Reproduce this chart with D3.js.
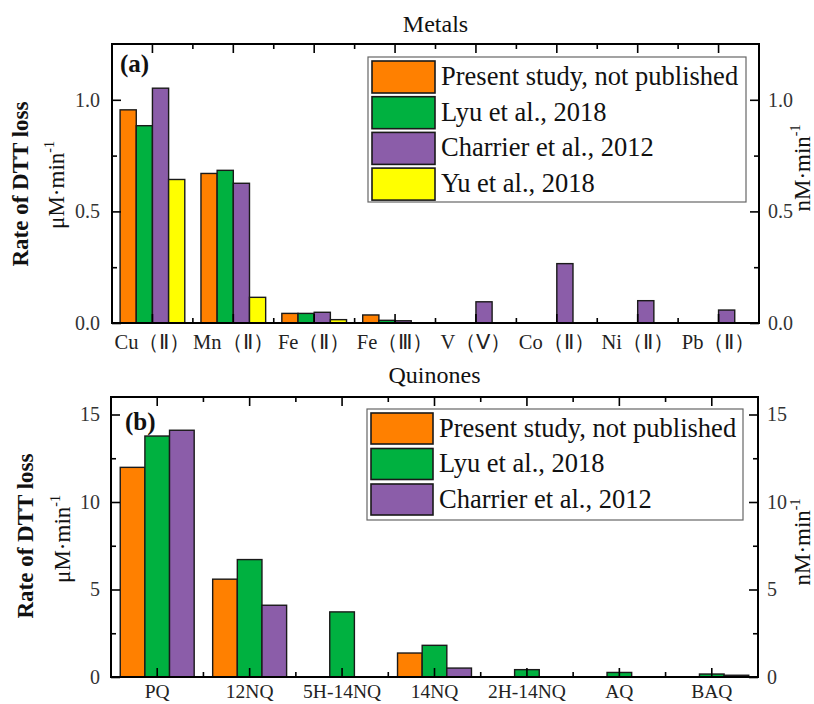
<!DOCTYPE html>
<html>
<head>
<meta charset="utf-8">
<script src="https://cdn.jsdelivr.net/npm/d3@7"></script>
<style>
  html, body { margin: 0; padding: 0; background: #fff; }
  svg { display: block; }
</style>
</head>
<body>
<svg id="chart" width="814" height="704" font-family="'Liberation Serif', 'Times New Roman', Times, serif"></svg>
<script>
// ---------- DATA ----------
const seriesNames = ["Present study, not published", "Lyu et al., 2018", "Charrier et al., 2012", "Yu et al., 2018"];
const seriesColors = ["#FF8000", "#00B140", "#8B5DA9", "#FFFF00"];

const metalCategories = ["Cu（Ⅱ）", "Mn（Ⅱ）", "Fe（Ⅱ）", "Fe（Ⅲ）", "V（Ⅴ）", "Co（Ⅱ）", "Ni（Ⅱ）", "Pb（Ⅱ）"];
const presentMetals  = [0.955, 0.670, 0.043, 0.036, null, null, null, null];
const lyuMetals      = [0.884, 0.684, 0.043, 0.012, null, null, null, null];
const charrierMetals = [1.052, 0.626, 0.048, 0.010, 0.095, 0.266, 0.100, 0.058];
const yuMetals       = [0.643, 0.115, 0.015, null, null, null, null, null];
const metalMajorTicks = [0.0, 0.5, 1.0];
const metalMinorTicks = [0.25, 0.75];

const quinoneCategories = ["PQ", "12NQ", "5H-14NQ", "14NQ", "2H-14NQ", "AQ", "BAQ"];
const presentQuinones  = [11.98, 5.59, null, 1.37, null, null, null];
const lyuQuinones      = [13.77, 6.71, 3.72, 1.81, 0.42, 0.26, 0.17];
const charrierQuinones = [14.10, 4.10, null, 0.51, null, null, 0.10];
const quinoneMajorTicks = [0, 5, 10, 15];
const quinoneMinorTicks = [2.5, 7.5, 12.5];

// ---------- DRAW ----------
const FONT = "'Liberation Serif', 'Times New Roman', Times, serif";
const svg = d3.select("#chart");

function drawPanel(cfg) {
  const { left, right, top, bottom } = cfg;
  const g = svg.append("g");
  const nSeries = cfg.series.length;
  const names = seriesNames.slice(0, nSeries);

  const x = d3.scaleBand().domain(cfg.categories).range([left, right])
    .paddingInner(0.2).paddingOuter(0.1);
  const xs = d3.scaleBand().domain(names).range([0, x.bandwidth()]);
  const y = d3.scaleLinear().domain(cfg.yDomain).range([bottom, top]);

  // bars
  cfg.series.forEach((vals, si) => {
    const data = cfg.categories.map((c, i) => ({ c, v: vals[i] })).filter(d => d.v != null);
    g.append("g").selectAll("rect").data(data).join("rect")
      .attr("x", d => x(d.c) + xs(names[si]))
      .attr("y", d => y(d.v))
      .attr("width", xs.bandwidth())
      .attr("height", d => y(0) - y(d.v))
      .attr("fill", seriesColors[si])
      .attr("stroke", "#1a1a1a")
      .attr("stroke-width", 1.4);
  });

  const step = x.step();
  const boundaries = cfg.categories.slice(1).map(c => x(c) - step * 0.1);

  // bottom axis (major at centers, labels)
  const xb = g.append("g").attr("transform", `translate(0,${bottom})`)
    .call(d3.axisBottom(x).tickSize(-9).tickPadding(cfg.xPad));
  xb.selectAll("text").attr("font-size", cfg.xFont).attr("fill", "#222");
  // top axis
  g.append("g").attr("transform", `translate(0,${top})`)
    .call(d3.axisTop(x).tickSize(-9).tickFormat(""));
  // minor ticks at boundaries
  boundaries.forEach(bx => {
    g.append("line").attr("x1", bx).attr("x2", bx).attr("y1", bottom).attr("y2", bottom - 5)
      .attr("stroke", "#000").attr("stroke-width", 1.6);
    g.append("line").attr("x1", bx).attr("x2", bx).attr("y1", top).attr("y2", top + 5)
      .attr("stroke", "#000").attr("stroke-width", 1.6);
  });

  // y axes
  const fmt = cfg.yFormat;
  const yl = g.append("g").attr("transform", `translate(${left},0)`)
    .call(d3.axisLeft(y).tickValues(cfg.major).tickSize(-9).tickPadding(cfg.yPadL).tickFormat(fmt));
  const yr = g.append("g").attr("transform", `translate(${right},0)`)
    .call(d3.axisRight(y).tickValues(cfg.major).tickSize(-9).tickPadding(9).tickFormat(fmt));
  g.append("g").attr("transform", `translate(${left},0)`)
    .call(d3.axisLeft(y).tickValues(cfg.minor).tickSize(-5).tickFormat(""));
  g.append("g").attr("transform", `translate(${right},0)`)
    .call(d3.axisRight(y).tickValues(cfg.minor).tickSize(-5).tickFormat(""));
  [yl, yr].forEach(a => a.selectAll("text").attr("font-size", 20).attr("fill", "#333"));

  g.selectAll(".domain").remove();
  g.selectAll(".tick line").attr("stroke", "#000").attr("stroke-width", 1.6);
  g.selectAll("g").attr("font-family", FONT);

  // frame
  g.append("rect").attr("x", left).attr("y", top).attr("width", right - left).attr("height", bottom - top)
    .attr("fill", "none").attr("stroke", "#000").attr("stroke-width", 2);

  // title
  g.append("text").attr("x", (left + right) / 2).attr("y", cfg.titleY).attr("text-anchor", "middle")
    .attr("font-family", FONT).attr("font-size", 24).attr("fill", "#111").text(cfg.title);
  // panel label
  g.append("text").attr("x", cfg.tagX).attr("y", cfg.tagY).attr("font-size", 25)
    .attr("font-family", FONT).attr("font-weight", "bold").attr("fill", "#111").text(cfg.tag);

  // y labels
  g.append("text").attr("transform", `translate(${cfg.rateX},${cfg.labelCY}) rotate(-90)`)
    .attr("font-family", FONT)
    .attr("text-anchor", "middle").attr("font-size", 23).attr("font-weight", "bold").attr("fill", "#111")
    .text("Rate of DTT loss");
  const unit = (tx, ty, prefix) => {
    const t = g.append("text").attr("transform", `translate(${tx},${ty}) rotate(-90)`)
      .attr("font-family", FONT)
      .attr("text-anchor", "middle").attr("font-size", 23).attr("fill", "#111");
    t.append("tspan").text(prefix + "·min");
    t.append("tspan").attr("font-size", 14).attr("dy", -10).text("-1");
  };
  unit(cfg.unitLX, cfg.unitLY, "μM");
  unit(cfg.unitRX, cfg.unitRY, "nM");

  // legend
  const L = cfg.legend;
  g.append("rect").attr("x", L.x).attr("y", L.y).attr("width", L.w).attr("height", L.h)
    .attr("fill", "#fff").attr("stroke", "#666").attr("stroke-width", 1.2);
  names.forEach((n, i) => {
    const ry = L.y + 4 + i * L.pitch;
    g.append("rect").attr("x", L.x + 4).attr("y", ry).attr("width", L.sw).attr("height", L.sh)
      .attr("fill", seriesColors[i]).attr("stroke", "#1a1a1a").attr("stroke-width", 1.6);
    g.append("text").attr("x", L.x + L.sw + 10).attr("y", ry + L.sh / 2 + 8)
      .attr("font-family", FONT)
      .attr("font-size", 26.5).attr("fill", "#111").text(n);
  });
}

drawPanel({
  left: 112, right: 759, top: 44, bottom: 323,
  categories: metalCategories,
  series: [presentMetals, lyuMetals, charrierMetals, yuMetals],
  yDomain: [0, 1.25], major: metalMajorTicks, minor: metalMinorTicks, yFormat: d3.format(".1f"),
  xPad: 11, xFont: 20.5, yPadL: 12,
  title: "Metals", titleY: 32, tag: "(a)", tagX: 120, tagY: 72,
  rateX: 28, labelCY: 184, unitLX: 64, unitLY: 185, unitRX: 810, unitRY: 168,
  legend: { x: 368, y: 57, w: 378, h: 145, sw: 63, sh: 32, pitch: 35.7 }
});

drawPanel({
  left: 111, right: 758, top: 397, bottom: 677,
  categories: quinoneCategories,
  series: [presentQuinones, lyuQuinones, charrierQuinones],
  yDomain: [0, 16], major: quinoneMajorTicks, minor: quinoneMinorTicks, yFormat: d3.format("d"),
  xPad: 7, xFont: 19.5, yPadL: 11,
  title: "Quinones", titleY: 383, tag: "(b)", tagX: 125, tagY: 430,
  rateX: 33, labelCY: 536, unitLX: 70, unitLY: 539, unitRX: 810, unitRY: 542,
  legend: { x: 367, y: 409, w: 376, h: 111, sw: 62, sh: 31, pitch: 35.5 }
});
</script>
</body>
</html>
